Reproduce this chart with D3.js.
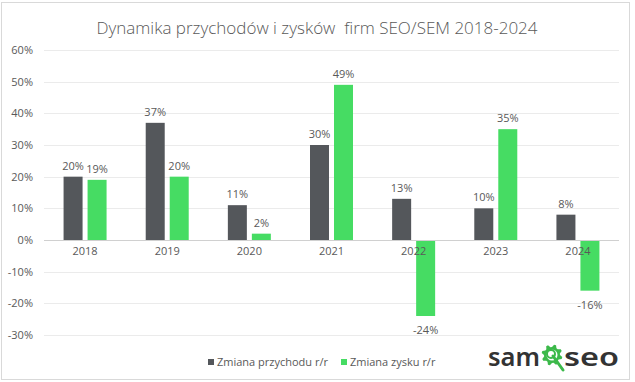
<!DOCTYPE html>
<html><head><meta charset="utf-8">
<script src="https://cdn.jsdelivr.net/npm/d3@7"></script>
<style>html,body{margin:0;padding:0;background:#fff;}svg{display:block;}</style>
</head><body>
<svg id="c" width="635" height="382"></svg>
<script>
const categories = ["2018","2019","2020","2021","2022","2023","2024"];
const revenue = [0.20,0.37,0.11,0.30,0.13,0.10,0.08];
const profit  = [0.19,0.20,0.02,0.49,-0.24,0.35,-0.16];
const seriesNames = ["Zmiana przychodu r/r","Zmiana zysku r/r"];
const yTicks = [-0.3,-0.2,-0.1,0,0.1,0.2,0.3,0.4,0.5,0.6];
const title = "Dynamika przychodów i zysków  firm SEO/SEM 2018-2024";

const colors = ["#54575b","#46dc63"];
const textColor = "#595959";
const font = "'Open Sans', 'Noto Sans', sans-serif";
const pct = d => Math.round(d*100) + "%";

const svg = d3.select("#c");
svg.append("rect").attr("x",1.5).attr("y",2.5).attr("width",628).attr("height",377)
  .attr("fill","#fff").attr("stroke","#d9d9d9");

const y = d3.scaleLinear().domain([-0.3,0.6]).range([335,50]);
const p = 1 - 43/ (575/7);
const x = d3.scaleBand().domain(categories).range([44,619]).paddingInner(p).paddingOuter(p/2);
const xs = d3.scaleBand().domain([0,1]).range([0,x.bandwidth()]).paddingInner(5/24);

// gridlines
svg.append("g").selectAll("line").data(yTicks.filter(t=>t!==0)).join("line")
  .attr("x1",44).attr("x2",619).attr("y1",d=>Math.round(y(d))+0.5).attr("y2",d=>Math.round(y(d))+0.5)
  .attr("stroke","#ebebeb");

// y axis labels
const yAxis = d3.axisLeft(y).tickValues(yTicks).tickFormat(pct).tickSize(0).tickPadding(0);
const ga = svg.append("g").attr("transform","translate(33,0)").call(yAxis);
ga.select(".domain").remove();
ga.selectAll("text").attr("fill",textColor).style("font-family",font).style("font-size","11px");

// bars
const series = [revenue, profit];
series.forEach((vals,si)=>{
  svg.append("g").selectAll("rect").data(vals).join("rect")
    .attr("x",(d,i)=>x(categories[i])+xs(si))
    .attr("width",xs.bandwidth())
    .attr("y",d=>y(Math.max(0,d)))
    .attr("height",d=>Math.abs(y(d)-y(0)))
    .attr("fill",colors[si]);
  svg.append("g").selectAll("text").data(vals).join("text")
    .attr("x",(d,i)=>x(categories[i])+xs(si)+xs.bandwidth()/2)
    .attr("y",d=> d>=0 ? y(d)-7 : y(d)+18)
    .attr("text-anchor","middle").attr("fill",textColor)
    .style("font-family",font).style("font-size","11px")
    .text(pct);
});

// zero axis line
svg.append("line").attr("x1",44).attr("x2",619).attr("y1",Math.round(y(0))+0.5).attr("y2",Math.round(y(0))+0.5)
  .attr("stroke","#d0d0d0");

// category labels
const xAxis = d3.axisBottom(x).tickSize(0).tickPadding(0);
const gx = svg.append("g").attr("transform",`translate(0,${y(0)+7})`).call(xAxis);
gx.select(".domain").remove();
gx.selectAll("text").attr("fill",textColor).style("font-family",font).style("font-size","11px");

// title
svg.append("text").attr("x",317).attr("y",34).attr("text-anchor","middle")
  .attr("fill",textColor).style("font-family",font).style("font-size","17px").style("font-weight","300")
  .style("white-space","pre").attr("xml:space","preserve").text(title);

// legend
const lg = svg.append("g");
const legX = [208,341];
seriesNames.forEach((n,i)=>{
  lg.append("rect").attr("x",legX[i]).attr("y",359).attr("width",6).attr("height",6).attr("fill",colors[i]);
  lg.append("text").attr("x",legX[i]+9).attr("y",366).attr("fill",textColor)
    .style("font-family",font).style("font-size","11px").text(n);
});

// logo
const logo = svg.append("g");
logo.append("text").attr("x",488).attr("y",366).attr("fill","#333")
  .style("font-family","'Noto Sans', sans-serif").style("font-size","26px").style("font-weight","600")
  .attr("textLength",52).attr("lengthAdjust","spacingAndGlyphs").text("sam");
logo.append("text").attr("x",564).attr("y",366).attr("fill","#333")
  .style("font-family","'Noto Sans', sans-serif").style("font-size","26px").style("font-weight","600")
  .attr("textLength",55).attr("lengthAdjust","spacingAndGlyphs").text("seo");
const gc = [552,355], green="#3cb94a";
const teeth = 8, ro=10.5, ri=8;
let pts=[];
for(let k=0;k<teeth*4;k++){
  const a = k/(teeth*4)*2*Math.PI;
  const r = (k%4<2)?ro:ri;
  pts.push([gc[0]+r*Math.cos(a+0.2), gc[1]+r*Math.sin(a+0.2)]);
}
logo.append("path").attr("d",d3.line()(pts)+"Z").attr("fill",green);
logo.append("circle").attr("cx",gc[0]).attr("cy",gc[1]).attr("r",5.5).attr("fill","#fff");
logo.append("circle").attr("cx",gc[0]-1).attr("cy",gc[1]-1).attr("r",4).attr("fill","none").attr("stroke",green).attr("stroke-width",2);
logo.append("line").attr("x1",gc[0]+1).attr("y1",gc[1]+1).attr("x2",gc[0]+11).attr("y2",gc[1]+15)
  .attr("stroke",green).attr("stroke-width",3).attr("stroke-linecap","round");
</script>
</body></html>
